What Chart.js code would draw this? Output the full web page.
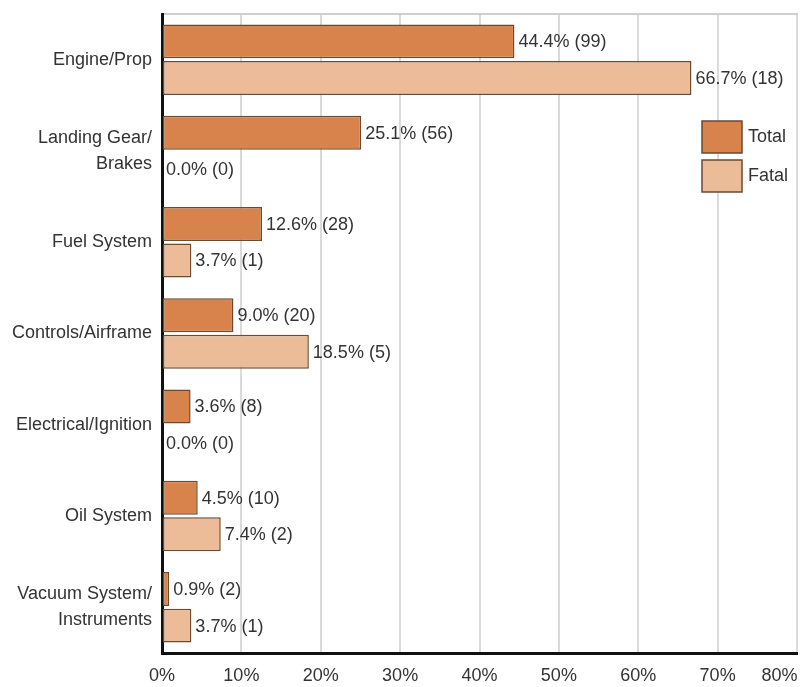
<!DOCTYPE html>
<html>
<head>
<meta charset="utf-8">
<script src="https://cdn.jsdelivr.net/npm/chart.js@4.4.1/dist/chart.umd.min.js"></script>
<style>
    html, body { margin: 0; padding: 0; background: #fff; }
    #wrap { width: 803px; height: 687px; }
</style>
</head>
<body>
<div id="wrap"><canvas id="causeChart" width="803" height="687"></canvas></div>
<script>
// --- DATA ---
const categories = [
    'Engine/Prop',
    ['Landing Gear/', 'Brakes'],
    'Fuel System',
    'Controls/Airframe',
    'Electrical/Ignition',
    'Oil System',
    ['Vacuum System/', 'Instruments']
];
const totalPct = [44.4, 25.1, 12.6, 9.0, 3.6, 4.5, 0.9];
const totalCount = [99, 56, 28, 20, 8, 10, 2];
const fatalPct = [66.7, 0.0, 3.7, 18.5, 0.0, 7.4, 3.7];
const fatalCount = [18, 0, 1, 5, 0, 2, 1];
const xTicks = [0, 10, 20, 30, 40, 50, 60, 70, 80];

const FONT = "'Liberation Sans', Arial, sans-serif";
const TEXT = '#333333';
const EDGE = '#6b4a30';

// value label after each bar: "44.4% (99)"
const barLabels = {
    id: 'barLabels',
    afterDatasetsDraw(chart) {
        const ctx = chart.ctx;
        const counts = [totalCount, fatalCount];
        ctx.save();
        ctx.font = '18px ' + FONT;
        ctx.fillStyle = TEXT;
        ctx.textAlign = 'left';
        ctx.textBaseline = 'middle';
        chart.data.datasets.forEach((ds, i) => {
            chart.getDatasetMeta(i).data.forEach((bar, j) => {
                const txt = ds.data[j].toFixed(1) + '% (' + counts[i][j] + ')';
                ctx.fillText(txt, bar.x + 4, bar.y + 1);
            });
        });
        ctx.restore();
    }
};

// legend boxes sitting inside the plot, top right
const boxLegend = {
    id: 'boxLegend',
    afterDraw(chart) {
        const ctx = chart.ctx;
        const area = chart.chartArea;
        const x = area.right - 95;
        let y = area.top + 107;
        ctx.save();
        ctx.font = '18px ' + FONT;
        ctx.textBaseline = 'middle';
        chart.data.datasets.forEach(ds => {
            ctx.fillStyle = ds.backgroundColor;
            ctx.fillRect(x, y, 40, 32);
            ctx.strokeStyle = EDGE;
            ctx.lineWidth = 1.5;
            ctx.strokeRect(x, y, 40, 32);
            ctx.fillStyle = TEXT;
            ctx.fillText(ds.label, x + 46, y + 16);
            y += 39;
        });
        ctx.restore();
    }
};

const ctx = document.getElementById('causeChart').getContext('2d');
new Chart(ctx, {
    type: 'bar',
    data: {
        labels: categories,
        datasets: [{
            label: 'Total',
            data: totalPct,
            backgroundColor: '#d8834b',
            borderColor: EDGE,
            borderWidth: 1.5,
            borderSkipped: false,
            categoryPercentage: 0.8,
            barPercentage: 0.93
        }, {
            label: 'Fatal',
            data: fatalPct,
            backgroundColor: '#ecbb97',
            borderColor: EDGE,
            borderWidth: 1.5,
            borderSkipped: false,
            categoryPercentage: 0.8,
            barPercentage: 0.93
        }]
    },
    options: {
        indexAxis: 'y',
        responsive: false,
        animation: false,
        layout: { padding: { top: 14, right: 6, bottom: 0, left: 0 } },
        plugins: {
            legend: { display: false },
            tooltip: { enabled: false }
        },
        scales: {
            x: {
                min: 0,
                max: 80,
                afterBuildTicks(scale) {
                    scale.ticks = xTicks.map(v => ({ value: v }));
                },
                afterFit(scale) {
                    scale.height = 34;
                    scale.paddingLeft = 0;
                    scale.paddingRight = 0;
                },
                grid: { color: '#dadada', lineWidth: 2, drawTicks: false },
                border: { display: true, color: '#111', width: 3 },
                ticks: {
                    padding: 12,
                    color: TEXT,
                    font: { family: FONT, size: 18 },
                    maxRotation: 0,
                    // last label is pulled left so it stays on the canvas
                    callback: v => v === 80 ? '80%' + '\u00a0'.repeat(7) : v + '%'
                }
            },
            xTop: {
                type: 'linear',
                position: 'top',
                min: 0,
                max: 80,
                afterFit(scale) { scale.height = 0; },
                grid: { display: false },
                ticks: { display: false },
                border: { display: true, color: '#cfcfcf', width: 2 }
            },
            y: {
                afterFit(scale) {
                    scale.width = 162;
                    scale.paddingTop = 0;
                    scale.paddingBottom = 0;
                },
                grid: { display: false, drawTicks: false },
                border: { display: true, color: '#111', width: 3 },
                ticks: {
                    padding: 10,
                    color: TEXT,
                    font: { family: FONT, size: 18, lineHeight: 1.45 }
                }
            }
        }
    },
    plugins: [barLabels, boxLegend]
});
</script>
</body>
</html>
